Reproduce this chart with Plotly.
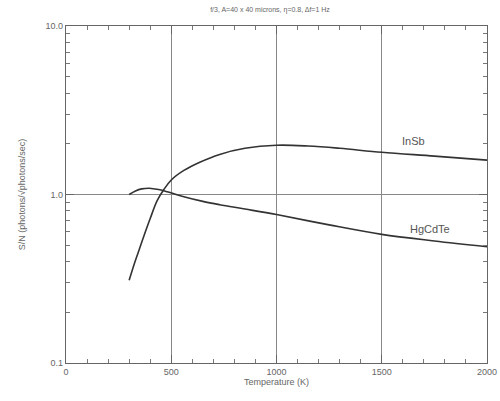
import plotly.graph_objects as go

temp_insb = [300, 325, 350, 375, 400, 433, 465, 500, 560, 633, 730, 850, 1000, 1150, 1300, 1500, 1750, 2000]
sn_insb = [0.31, 0.39, 0.48, 0.59, 0.72, 0.92, 1.07, 1.22, 1.39, 1.55, 1.73, 1.88, 1.96, 1.94, 1.88, 1.78, 1.69, 1.60]

temp_hg = [300, 330, 360, 395, 440, 490, 560, 650, 730, 850, 1000, 1250, 1500, 1750, 2000]
sn_hg = [1.00, 1.05, 1.08, 1.09, 1.07, 1.03, 0.97, 0.91, 0.87, 0.82, 0.76, 0.66, 0.58, 0.53, 0.49]

x_ticks = [0, 500, 1000, 1500, 2000]
y_ticks = [0.1, 1.0, 10.0]
y_ticktext = ["0.1", "1.0", "10.0"]

title = "f/3, A=40 x 40 microns, \u03b7=0.8, \u0394f=1 Hz"
x_title = "Temperature (K)"
y_title = "S/N (photons/\u221aphotons/sec)"

fig = go.Figure()
fig.add_trace(go.Scatter(x=temp_insb, y=sn_insb, mode="lines",
                         line=dict(color="#333333", width=1.6, shape="spline"),
                         name="InSb", showlegend=False))
fig.add_trace(go.Scatter(x=temp_hg, y=sn_hg, mode="lines",
                         line=dict(color="#333333", width=1.6, shape="spline"),
                         name="HgCdTe", showlegend=False))

# annotation y in log10 units (log axis)
fig.add_annotation(x=1650, y=0.32, text="InSb", showarrow=False, xref="x", yref="y",
                   font=dict(size=11, color="#555"), yanchor="middle", xanchor="center")
fig.add_annotation(x=1730, y=-0.205, text="HgCdTe", showarrow=False, xref="x", yref="y",
                   font=dict(size=11, color="#555"), yanchor="middle", xanchor="center")

axis_font = dict(family="Liberation Sans, Arial, sans-serif", size=9, color="#666")
fig.update_layout(
    width=500, height=401,
    margin=dict(l=66, r=13, t=26, b=38),
    paper_bgcolor="white", plot_bgcolor="white",
    font=dict(family="Liberation Sans, Arial, sans-serif", size=9, color="#666"),
    title=dict(text=title, x=0.54, xanchor="center", y=0.975, yanchor="middle",
               font=dict(size=7, color="#666")),
)
fig.update_xaxes(
    range=[0, 2000], tickvals=x_ticks, ticks="inside", ticklen=8, tickcolor="#666",
    showline=True, linecolor="#666", linewidth=1.2, mirror="ticks",
    showgrid=True, gridcolor="#888", gridwidth=1,
    minor=dict(dtick=100, ticks="inside", ticklen=4, tickcolor="#777", showgrid=False),
    title=dict(text=x_title, font=dict(size=9, color="#666"), standoff=2),
    tickfont=axis_font, zeroline=False, automargin=False,
)
fig.update_yaxes(
    type="log", range=[-1, 1], tickvals=y_ticks, ticktext=y_ticktext,
    ticks="inside", ticklen=8, tickcolor="#666",
    showline=True, linecolor="#666", linewidth=1.2, mirror="ticks",
    showgrid=True, gridcolor="#888", gridwidth=1,
    minor=dict(dtick="D1", ticks="inside", ticklen=4, tickcolor="#777", showgrid=False),
    title=dict(text=y_title, font=dict(size=9, color="#666"), standoff=18),
    tickfont=axis_font, zeroline=False, automargin=False,
)
fig.write_html("out.html", config={"displayModeBar": False},
               post_script="document.body.style.margin='0';document.body.style.padding='0';")
